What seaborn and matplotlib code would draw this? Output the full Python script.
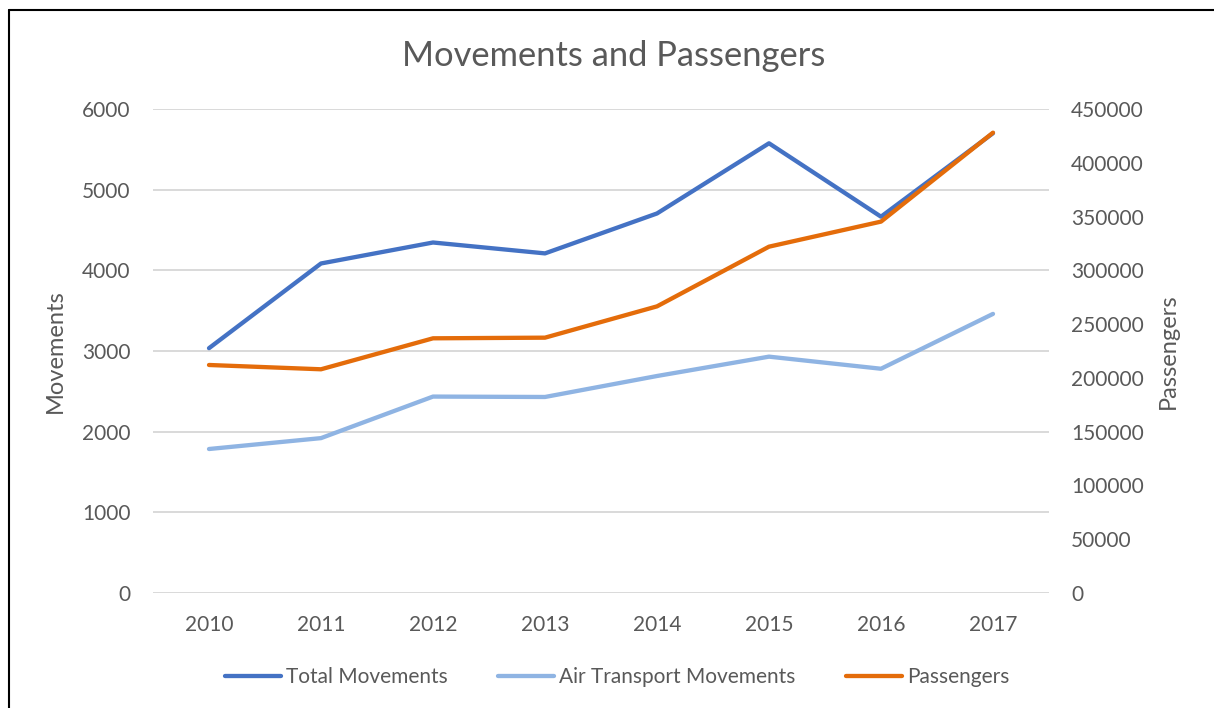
import pandas as pd
import matplotlib
matplotlib.use("Agg")
import matplotlib.pyplot as plt
import seaborn as sns
from matplotlib.lines import Line2D

# data
years = ["2010", "2011", "2012", "2013", "2014", "2015", "2016", "2017"]
total_movements = [3035, 4085, 4345, 4210, 4705, 5575, 4665, 5700]
air_transport = [1785, 1920, 2435, 2430, 2690, 2930, 2780, 3460]
passengers = [212000, 208000, 236800, 237400, 266500, 322000, 345300, 428000]

series_names = ["Total Movements", "Air Transport Movements", "Passengers"]
colors = ["#4472C4", "#8FB4E3", "#E46C0A"]
text_col = "#595959"

sns.set_theme(style="white")
plt.rcParams['font.family'] = ['Lato', 'DejaVu Sans']

df = pd.DataFrame({
    "Year": years * 2,
    "Value": total_movements + air_transport,
    "Series": [series_names[0]] * len(years) + [series_names[1]] * len(years),
})
df_pax = pd.DataFrame({"Year": years, "Passengers": passengers})

fig = plt.figure(figsize=(12.14, 7.08), dpi=100)
ax = fig.add_axes([153 / 1214, 1 - 593 / 708, (1049 - 153) / 1214, (593 - 109) / 708])

sns.lineplot(data=df, x="Year", y="Value", hue="Series", palette=colors[:2],
             linewidth=3.1, sort=False, ax=ax, legend=False, solid_capstyle="round")
ax2 = ax.twinx()
sns.lineplot(data=df_pax, x="Year", y="Passengers", color=colors[2],
             linewidth=3.1, sort=False, ax=ax2, solid_capstyle="round")

ax.set_xlim(-0.5, len(years) - 0.5)
ax.set_ylim(0, 6000)
ax.set_yticks(range(0, 6001, 1000))
ax2.set_ylim(0, 450000)
ax2.set_yticks(range(0, 450001, 50000))

ax.yaxis.grid(True, color="#D9D9D9", linewidth=1.4)
ax.set_axisbelow(True)
for a in (ax, ax2):
    for s in a.spines.values():
        s.set_visible(False)
    a.tick_params(length=0, labelsize=15, labelcolor=text_col)
ax.tick_params(axis="y", pad=16)
ax.tick_params(axis="x", pad=16)
ax2.tick_params(axis="y", pad=16)

ax.set_xlabel("")
ax.set_ylabel("Movements", fontsize=17, color=text_col, labelpad=12)
ax2.set_ylabel("Passengers", fontsize=17, color=text_col, labelpad=10)

fig.text(614 / 1214, 1 - 56 / 708, "Movements and Passengers", ha="center", va="center",
         fontsize=24.8, color=text_col)

handles = [Line2D([0], [0], color=c, linewidth=3.1, solid_capstyle="round") for c in colors]
fig.legend(handles, series_names, loc="center", bbox_to_anchor=(617 / 1214, 1 - 677 / 708),
           ncol=3, frameon=False, fontsize=15, handlelength=2.7, handletextpad=0.25,
           columnspacing=2.4, labelcolor=text_col)

# outer chart border (left and top edges visible)
fig.add_artist(Line2D([9 / 1214, 9 / 1214], [0, 1 - 10 / 708], color="black", linewidth=1.5,
                      transform=fig.transFigure))
fig.add_artist(Line2D([9 / 1214, 1], [1 - 10 / 708, 1 - 10 / 708], color="black", linewidth=1.5,
                      transform=fig.transFigure))

fig.savefig("out.png", dpi=100)
